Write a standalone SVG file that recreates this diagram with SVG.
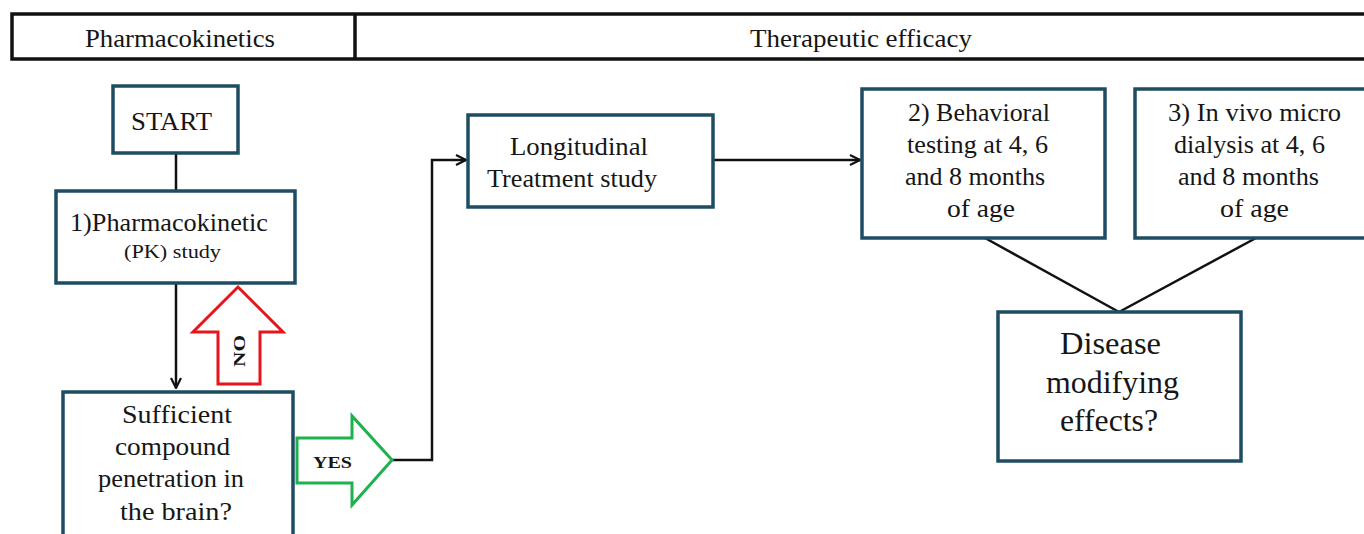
<svg xmlns="http://www.w3.org/2000/svg" width="1364" height="534" viewBox="0 0 1364 534">
<style>
  .box{fill:#fff;stroke:#1e4d62;stroke-width:3.5}
  .hdr{fill:#fff;stroke:#111;stroke-width:3.5}
  .t{font-family:"Liberation Serif","Times New Roman",serif;fill:#161616;font-size:25px}
  .h{font-size:25px}
  .d{font-size:31px}
  .line{fill:none;stroke:#111;stroke-width:2.5}
</style>
<defs>
  <marker id="arr" viewBox="0 0 12 12" refX="11" refY="6" markerWidth="12" markerHeight="12" markerUnits="userSpaceOnUse" orient="auto">
    <path d="M1,1 L11,6 L1,11" fill="none" stroke="#111" stroke-width="2.2"/>
  </marker>
</defs>
<rect width="1364" height="534" fill="#fff"/>
<g id="header">
  <rect class="hdr" x="12" y="14" width="1360" height="45"/>
  <line x1="355" y1="14" x2="355" y2="59" stroke="#111" stroke-width="3.5"/>
  <text class="t h" x="85" y="47" textLength="190" lengthAdjust="spacingAndGlyphs">Pharmacokinetics</text>
  <text class="t h" x="750" y="47" textLength="222" lengthAdjust="spacingAndGlyphs">Therapeutic efficacy</text>
</g>
<g id="connectors">
  <line class="line" x1="176" y1="153" x2="176" y2="191"/>
  <line class="line" x1="176" y1="283" x2="176" y2="388" marker-end="url(#arr)"/>
  <polyline class="line" points="392,460 432,460 432,160 466,160" marker-end="url(#arr)"/>
  <line class="line" x1="713" y1="160" x2="860" y2="160" marker-end="url(#arr)"/>
  <line class="line" x1="985" y1="238" x2="1119" y2="312"/>
  <line class="line" x1="1256" y1="238" x2="1119" y2="312"/>
</g>
<g id="start">
  <rect class="box" x="113" y="86" width="125" height="67"/>
  <text class="t" x="131" y="130" textLength="81" lengthAdjust="spacingAndGlyphs">START</text>
</g>
<g id="pk">
  <rect class="box" x="56" y="191" width="239" height="92"/>
  <text class="t" x="70" y="231" textLength="198" lengthAdjust="spacingAndGlyphs">1)Pharmacokinetic</text>
  <text class="t" x="124" y="258" style="font-size:18px" textLength="97" lengthAdjust="spacingAndGlyphs">(PK) study</text>
</g>
<g id="no-arrow">
  <polygon points="238,287 283,332 260,332 260,384 218,384 218,332 193,332" fill="#fff" stroke="#e8141b" stroke-width="3"/>
  <text class="t" transform="translate(245,367) rotate(-90)" style="font-size:16px;font-weight:bold" textLength="32" lengthAdjust="spacingAndGlyphs">NO</text>
</g>
<g id="sufficient">
  <rect class="box" x="63" y="392" width="230" height="150"/>
  <text class="t" x="122" y="423" textLength="110" lengthAdjust="spacingAndGlyphs">Sufficient</text>
  <text class="t" x="115" y="455" textLength="115" lengthAdjust="spacingAndGlyphs">compound</text>
  <text class="t" x="98" y="487" textLength="146" lengthAdjust="spacingAndGlyphs">penetration in</text>
  <text class="t" x="120" y="520" textLength="112" lengthAdjust="spacingAndGlyphs">the brain?</text>
</g>
<g id="yes-arrow">
  <polygon points="297,438 352,438 352,416 392,460 352,505 352,483 297,483" fill="#fff" stroke="#1fb14e" stroke-width="3"/>
  <text class="t" x="313" y="468" style="font-size:16px;font-weight:bold" textLength="39" lengthAdjust="spacingAndGlyphs">YES</text>
</g>
<g id="longitudinal">
  <rect class="box" x="468" y="115" width="245" height="92"/>
  <text class="t" x="510" y="155" textLength="138" lengthAdjust="spacingAndGlyphs">Longitudinal</text>
  <text class="t" x="487" y="187" textLength="170" lengthAdjust="spacingAndGlyphs">Treatment study</text>
</g>
<g id="behavioral">
  <rect class="box" x="862" y="89" width="243" height="149"/>
  <text class="t" x="908" y="121" textLength="142" lengthAdjust="spacingAndGlyphs">2) Behavioral</text>
  <text class="t" x="907" y="153" textLength="141" lengthAdjust="spacingAndGlyphs">testing at 4, 6</text>
  <text class="t" x="905" y="185" textLength="140" lengthAdjust="spacingAndGlyphs">and 8 months</text>
  <text class="t" x="947" y="217" textLength="68" lengthAdjust="spacingAndGlyphs">of age</text>
</g>
<g id="microdialysis">
  <rect class="box" x="1135" y="89" width="240" height="149"/>
  <text class="t" x="1168" y="121" textLength="173" lengthAdjust="spacingAndGlyphs">3) In vivo micro</text>
  <text class="t" x="1174" y="153" textLength="151" lengthAdjust="spacingAndGlyphs">dialysis at 4, 6</text>
  <text class="t" x="1178" y="185" textLength="141" lengthAdjust="spacingAndGlyphs">and 8 months</text>
  <text class="t" x="1220" y="217" textLength="69" lengthAdjust="spacingAndGlyphs">of age</text>
</g>
<g id="disease">
  <rect class="box" x="998" y="312" width="243" height="149"/>
  <text class="t d" x="1060" y="354" textLength="101" lengthAdjust="spacingAndGlyphs">Disease</text>
  <text class="t d" x="1046" y="393" textLength="133" lengthAdjust="spacingAndGlyphs">modifying</text>
  <text class="t d" x="1060" y="431" textLength="98" lengthAdjust="spacingAndGlyphs">effects?</text>
</g>
</svg>
